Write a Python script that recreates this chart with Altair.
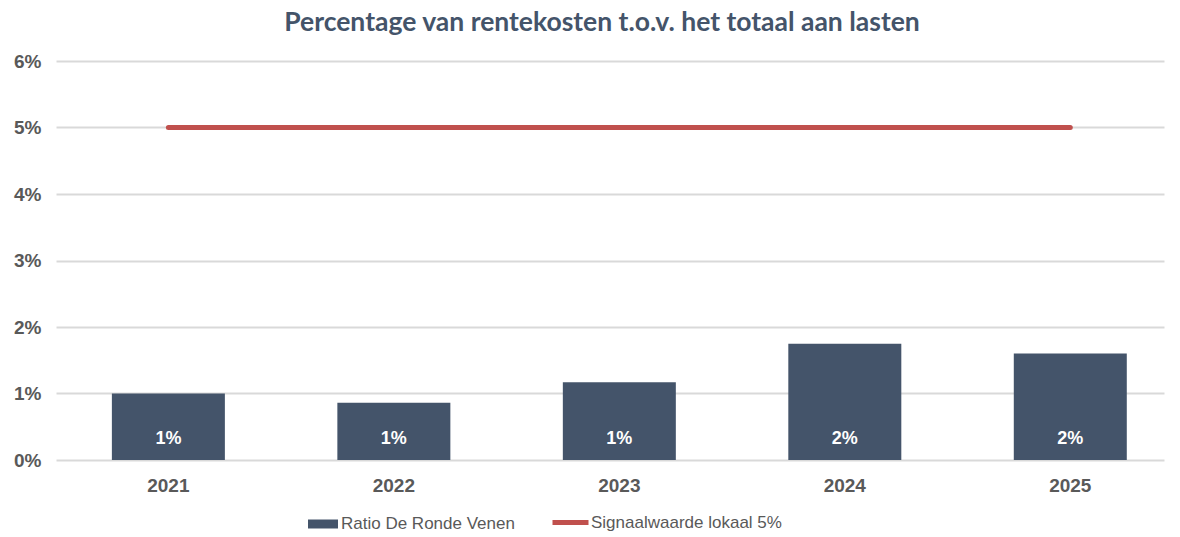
import altair as alt
import pandas as pd

years = ["2021", "2022", "2023", "2024", "2025"]
ratio = [0.0100, 0.0086, 0.0117, 0.0175, 0.0160]
signal = [0.05, 0.05, 0.05, 0.05, 0.05]
bar_series = "Ratio De Ronde Venen"
line_series = "Signaalwaarde lokaal 5%"
y_ticks = [0.0, 0.01, 0.02, 0.03, 0.04, 0.05, 0.06]
title_text = "Percentage van rentekosten t.o.v. het totaal aan lasten"

df = pd.DataFrame({"year": years, "ratio": ratio, "signal": signal,
                   "bs": [bar_series] * 5, "ls": [line_series] * 5})

AX = "Liberation Sans"
GRAY = "#595959"

xscale = alt.Scale(paddingInner=0.5, paddingOuter=0.207, align=0.6)
x = alt.X("year:N", scale=xscale, sort=years,
          axis=alt.Axis(title=None, labelAngle=0, domain=False, ticks=False,
                        labelFont=AX, labelFontSize=19, labelFontWeight="bold",
                        labelColor=GRAY, labelPadding=16))
yscale = alt.Scale(domain=[0, 0.06], nice=False)
yaxis = alt.Axis(title=None, values=y_ticks, format=".0%", domain=False, ticks=False,
                 labelFont=AX, labelFontSize=19, labelFontWeight="bold",
                 labelColor=GRAY, labelPadding=15, gridColor="#D9D9D9", gridWidth=2)

base = alt.Chart(df)

bars = base.mark_bar(size=113).encode(
    x=x,
    y=alt.Y("ratio:Q", scale=yscale, axis=yaxis),
    fill=alt.Fill("bs:N", scale=alt.Scale(domain=[bar_series], range=["#44546A"]),
                  legend=alt.Legend(title=None, orient="none", legendX=252, legendY=448,
                                    symbolType="M-1,-0.3H1V0.3H-1Z", symbolSize=900,
                                    symbolStrokeWidth=0, labelFont=AX, labelFontSize=17,
                                    labelColor=GRAY, labelOffset=3, labelLimit=400)),
)

labels = base.mark_text(font=AX, fontSize=18, fontWeight="bold", color="white", dy=-21).encode(
    x=x,
    y=alt.Y("zero:Q", scale=yscale, axis=yaxis),
    text=alt.Text("ratio:Q", format=".0%"),
).transform_calculate(zero="0")

line = base.mark_line(strokeWidth=5, strokeCap="round").encode(
    x=x,
    y=alt.Y("signal:Q", scale=yscale, axis=yaxis),
    stroke=alt.Stroke("ls:N", scale=alt.Scale(domain=[line_series], range=["#C0504D"]),
                      legend=alt.Legend(title=None, orient="none", legendX=494, legendY=441,
                                        symbolType="stroke", symbolSize=1296,
                                        symbolStrokeWidth=5, labelFont=AX, labelFontSize=17,
                                        labelColor=GRAY, labelOffset=0, labelLimit=400)),
)

chart = alt.layer(bars, line, labels).properties(
    width=1108, height=399,
    padding={"top": 1, "left": 5, "right": 5, "bottom": 5},
    title=alt.Title(title_text, font="Lato", fontSize=26.5, fontWeight="bold",
                    color="#44546A", anchor="middle", offset=16, dx=-8),
).configure_view(stroke=None).resolve_scale(y="shared")

chart.save("out.html", embed_options={"renderer": "svg", "actions": False})
